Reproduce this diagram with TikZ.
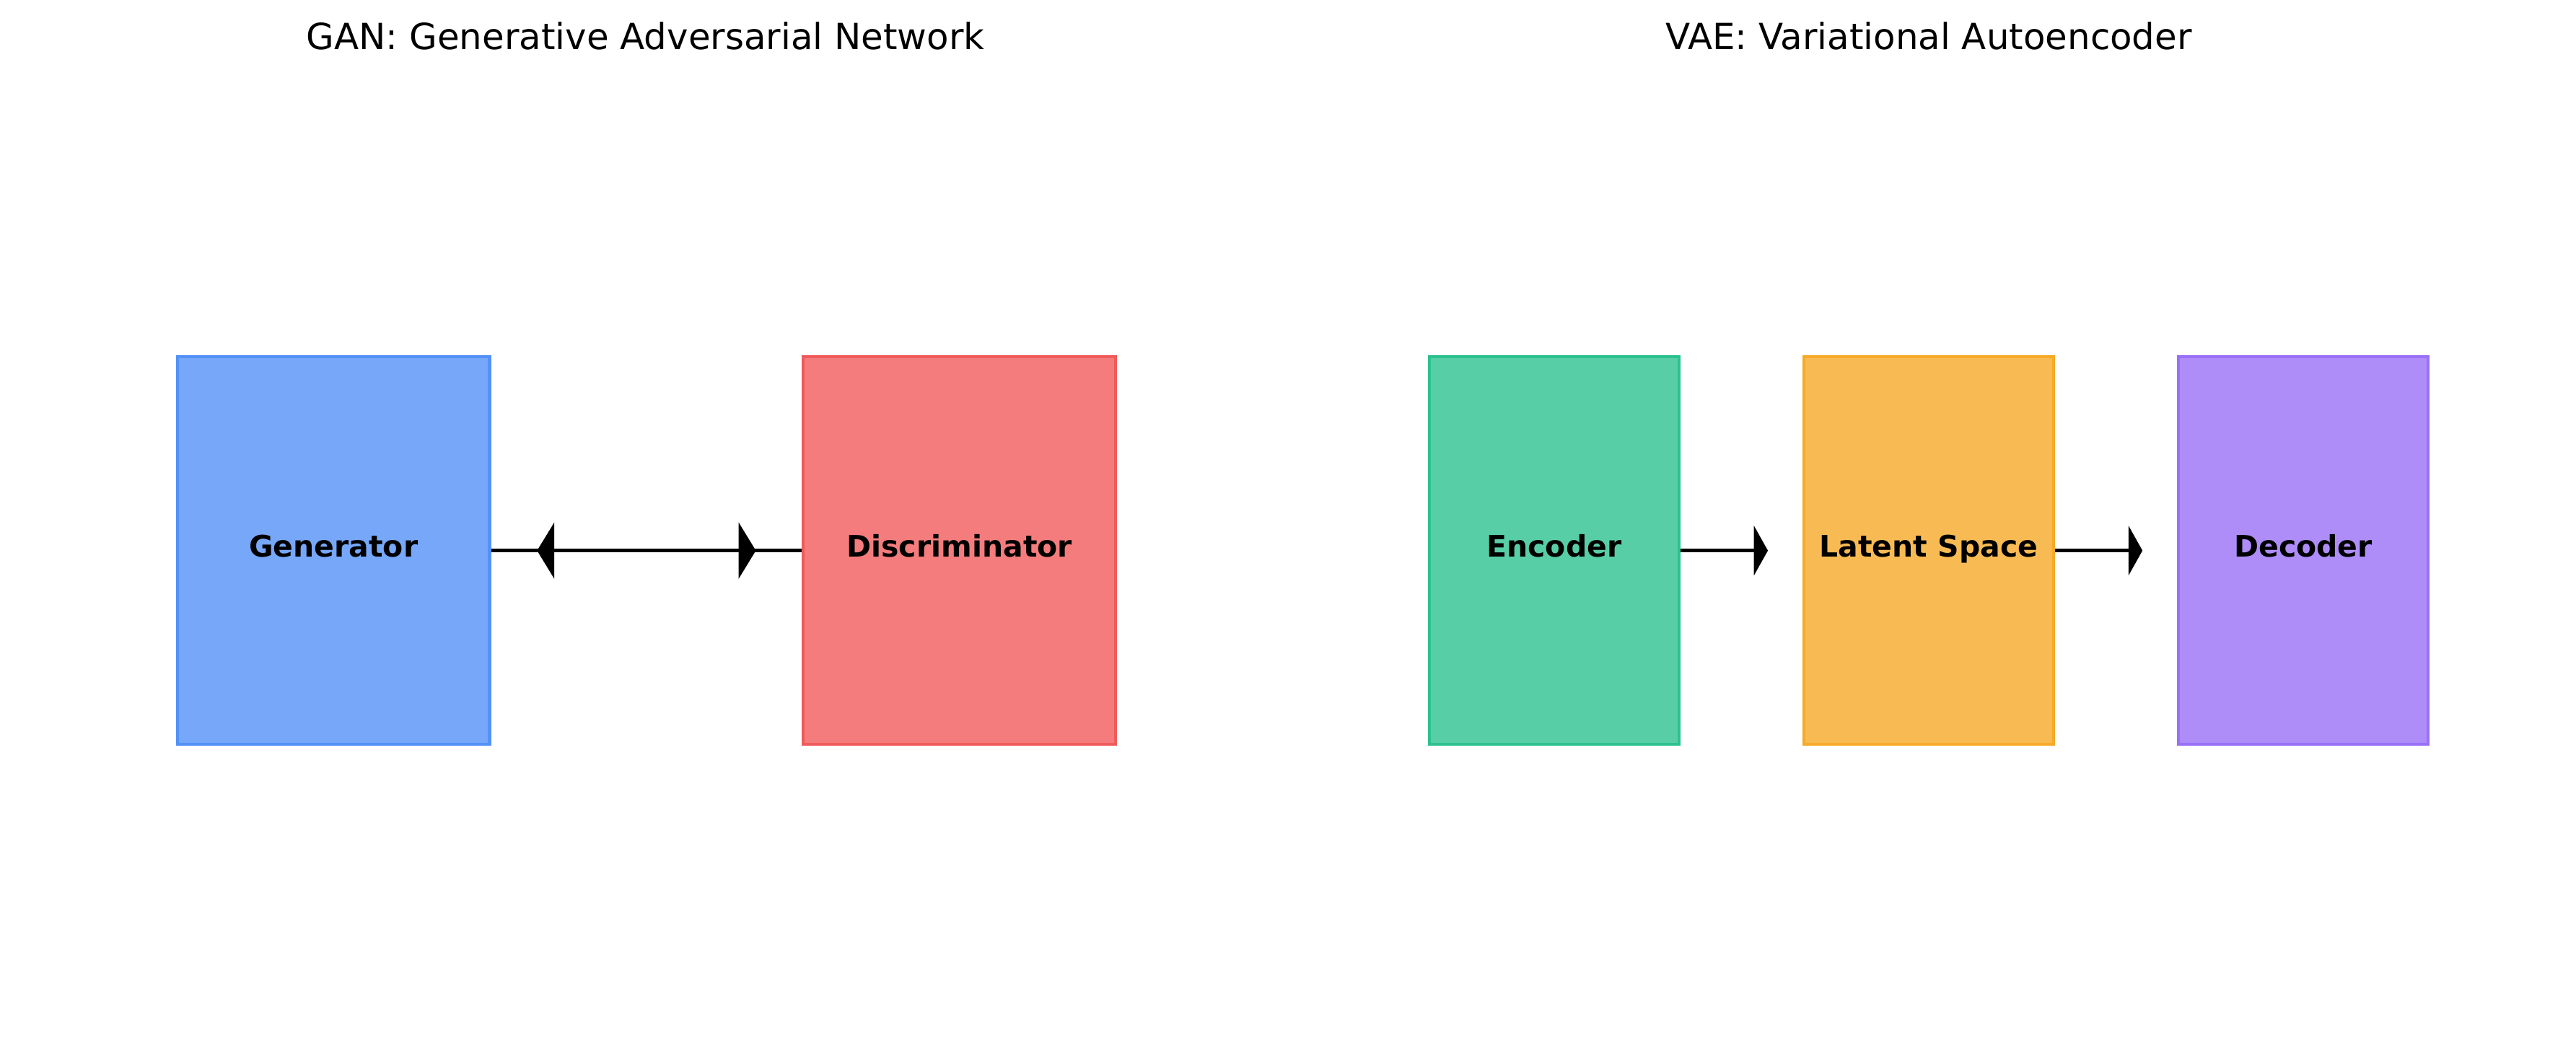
\documentclass[tikz,border=0pt]{standalone}
\usepackage{fontspec}
\setmainfont{DejaVu Sans}
\usetikzlibrary{arrows.meta}
\definecolor{genblue}{HTML}{3B82F6}
\definecolor{discred}{HTML}{EF4444}
\definecolor{encgreen}{HTML}{10B981}
\definecolor{latamber}{HTML}{F59E0B}
\definecolor{decviolet}{HTML}{8B5CF6}
\begin{document}
\begin{tikzpicture}[x=1pt,y=-1pt,
	block/.style={minimum height=236pt, inner sep=0pt, line width=1.8pt,
		font=\fontsize{18}{20}\selectfont\bfseries, text height=0.73em, text depth=0pt},
	title/.style={font=\fontsize{21.9}{24}\selectfont},
	link/.style={line width=2pt}]
	\useasboundingbox (0,0) rectangle (1568,644);
	% titles
	\node[title] (gantitle) at (393,22) {GAN: Generative Adversarial Network};
	\node[title] (vaetitle) at (1174,22) {VAE: Variational Autoencoder};
	% GAN
	\node[block, minimum width=190pt, fill=genblue!70, draw=genblue!88] (gen) at (203,335) {Generator};
	\node[block, minimum width=190pt, fill=discred!70, draw=discred!88] (disc) at (584,335) {Discriminator};
	\draw[link] (gen) -- (disc);
	\draw[link, {Triangle[length=10.5pt,width=34pt]}-{Triangle[length=10.5pt,width=34pt]},
		shorten <=28pt, shorten >=28pt] (gen) -- (disc);
	% VAE
	\foreach \name/\x/\col/\txt in {enc/946/encgreen/Encoder, lat/1174/latamber/Latent Space, dec/1402/decviolet/Decoder}
		\node[block, minimum width=152pt, fill=\col!70, draw=\col!88] (\name) at (\x,335) {\txt};
	\foreach \a/\b in {enc/lat, lat/dec}
		\draw[link, -{Triangle[length=8.5pt,width=30pt]}, shorten >=21pt] (\a) -- (\b);
\end{tikzpicture}
\end{document}
